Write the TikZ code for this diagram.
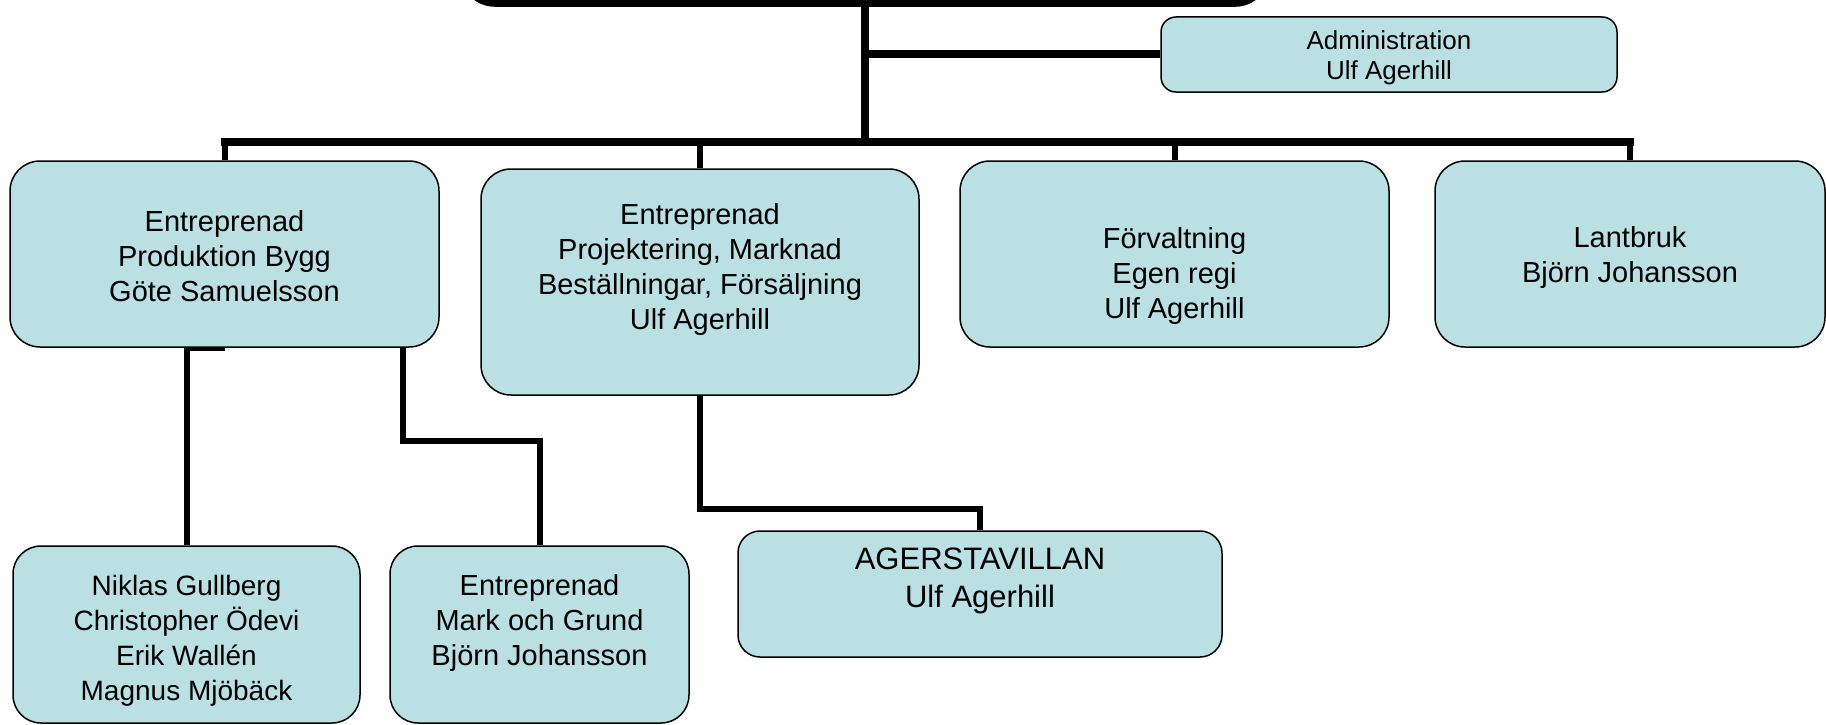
\documentclass[tikz,border=0pt]{standalone}
\usepackage{fontspec}
\setmainfont{Liberation Sans}
\usetikzlibrary{backgrounds}
\definecolor{unitfill}{RGB}{187,224,227}
\tikzset{
	unit/.style={draw=black, line width=1.5pt, fill=unitfill, rounded corners=30pt, inner sep=0pt},
	lbl/.style={align=center, inner sep=0pt, font=\fontsize{29}{35}\selectfont},
	bus/.style={line width=8pt},
	link/.style={line width=6pt},
}
\begin{document}
\begin{tikzpicture}[x=1pt, y=-1pt, line join=miter]
	\useasboundingbox (0,0) rectangle (1826,725);
	% top of the chart, cut by the page
	\node[fill=black, rounded corners=35pt, minimum width=810pt, minimum height=200pt, anchor=south] (head) at (865,7) {};
	\coordinate (hub) at (865,142);
	% first level
	\node[unit, minimum width=456pt, minimum height=75pt, rounded corners=15pt] (admin) at (1389,54.5) {};
	\node[unit, minimum width=429pt, minimum height=186pt] (prod) at (224.5,254) {};
	\node[unit, minimum width=438pt, minimum height=226pt] (proj) at (700,282) {};
	\node[unit, minimum width=429pt, minimum height=186pt] (forv) at (1174.5,254) {};
	\node[unit, minimum width=390pt, minimum height=186pt] (lant) at (1630,254) {};
	% second level
	\node[unit, minimum width=347pt, minimum height=177pt, rounded corners=28pt] (team) at (186.5,634.5) {};
	\node[unit, minimum width=299pt, minimum height=177pt, rounded corners=28pt] (mark) at (539.5,634.5) {};
	\node[unit, minimum width=484pt, minimum height=126pt, rounded corners=22pt] (villa) at (980,594) {};
	% texts
	\node[lbl, font=\fontsize{26}{30}\selectfont] (admin-t) at ([yshift=-3pt]admin) {Administration\\Ulf Agerhill};
	\node[lbl] (prod-t) at ([yshift=-2pt]prod) {Entreprenad\\Produktion Bygg\\Göte Samuelsson};
	\node[lbl] (proj-t) at ([yshift=13pt]proj) {Entreprenad\\Projektering, Marknad\\Beställningar, Försäljning\\Ulf Agerhill};
	\node[lbl] (forv-t) at ([yshift=-22pt]forv) {Förvaltning\\Egen regi\\Ulf Agerhill};
	\node[lbl] (lant-t) at ([yshift=-3pt]lant) {Lantbruk\\Björn Johansson};
	\node[lbl, font=\fontsize{28}{35}\selectfont] (team-t) at ([yshift=-6pt]team) {Niklas Gullberg\\Christopher Ödevi\\Erik Wallén\\Magnus Mjöbäck};
	\node[lbl] (mark-t) at ([yshift=12pt]mark) {Entreprenad\\Mark och Grund\\Björn Johansson};
	\node[lbl, font=\fontsize{31}{38}\selectfont] (villa-t) at ([yshift=13pt]villa) {AGERSTAVILLAN\\Ulf Agerhill};
	% connectors
	\begin{scope}[on background layer]
		\draw[bus] (head.south) -- (hub);
		\draw[bus] (head.south |- admin.west) -- (admin.west);
		\draw[bus, line cap=rect] (prod.north |- hub) -- (lant.north |- hub);
		\foreach \n in {prod,proj,forv,lant}
			\draw[link] (\n.north) -- (\n.north |- hub);
		\draw[link] (prod.south) -| (team.north);
		\draw[link] ([xshift=178.5pt]prod.south) -- ++(0,93) -| (mark.north);
		\draw[link] (proj.south) -- ++(0,113) -| (villa.north);
	\end{scope}
\end{tikzpicture}
\end{document}
